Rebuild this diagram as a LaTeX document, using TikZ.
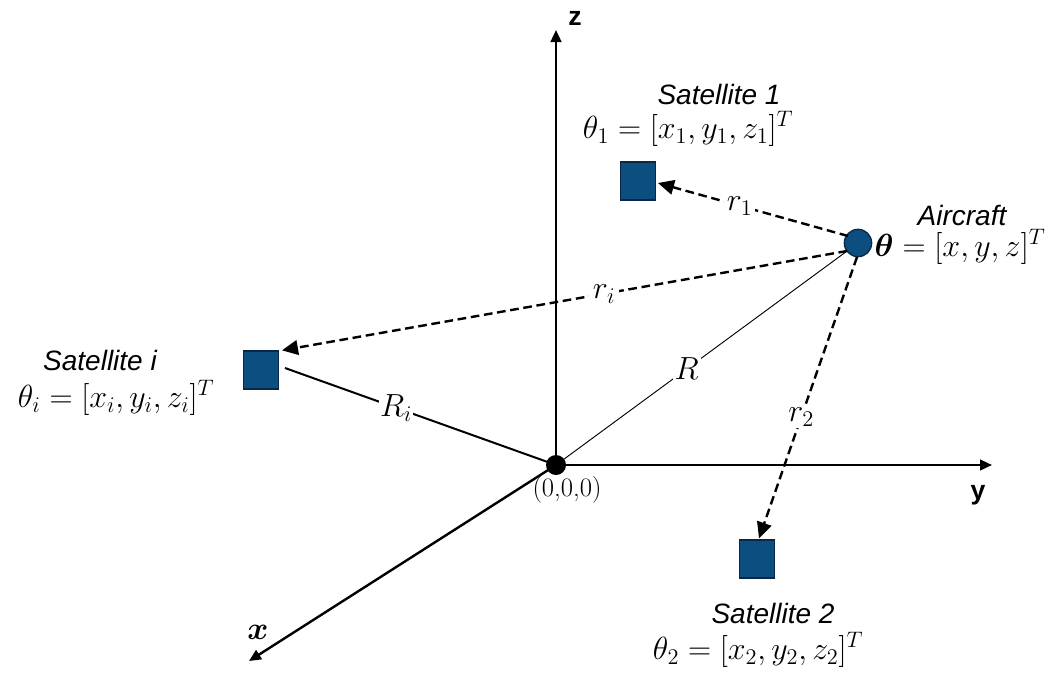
\documentclass[tikz,border=0pt]{standalone}
\usepackage{fix-cm}
\usepackage{amsmath}
\usepackage{fontspec}
\newfontfamily\lblfont{Liberation Sans}
\usetikzlibrary{arrows.meta,calc}
\definecolor{satblue}{RGB}{12,78,128}
\definecolor{satedge}{RGB}{10,40,70}
\tikzset{
  axis/.style={line width=1.8pt,-{Triangle[length=9pt,width=8pt]}},
  sat/.style={draw=satedge,line width=1pt,fill=satblue,minimum width=26pt,minimum height=28.5pt,inner sep=0pt},
  rng/.style={line width=1.8pt,dash pattern=on 6.5pt off 3.5pt,-{Triangle[length=12pt,width=11pt]}},
  lbl/.style={font=\lblfont\itshape\fontsize{21}{24}\selectfont},
  eq/.style={font=\fontsize{24}{28}\selectfont},
  gap/.style={fill=white,inner sep=3pt,font=\fontsize{24}{28}\selectfont},
  axlbl/.style={font=\lblfont\bfseries\fontsize{20}{24}\selectfont}
}
\begin{document}
\begin{tikzpicture}[x=0.75pt,y=-0.75pt]
\useasboundingbox (0,0) rectangle (1045,678);
% origin and axes
\coordinate (O) at (556,465);
\coordinate (zend) at (556,30);
\coordinate (yend) at (992,465);
\coordinate (xend) at (249,661);
\draw[axis] (O) -- (zend);
\draw[axis] (O) -- (yend);
\draw[axis] (O) -- (xend);
\node[axlbl] (zl) at (575,18) {z};
\node[axlbl] (yl) at (978,495) {y};
\node[font=\fontsize{24}{26}\selectfont] (xl) at (258,632) {$\boldsymbol{x}$};
% objects
\node[sat] (sat1) at (638,181) {};
\node[sat] (sati) at (261,370) {};
\node[sat] (sat2) at (757,559) {};
\node[circle,draw=satedge,line width=1pt,fill=satblue,minimum size=20.5pt,inner sep=0pt] (air) at (858,243) {};
% lines
\draw[line width=0.7pt] (O) -- node[gap,pos=0.45,inner sep=1.5pt] (Rl) {$R$} (air);
\draw[line width=1.5pt] ($(sati.east)+(6,-2)$) -- node[gap,pos=0.41,inner sep=0.5pt] (Ril) {$R_i$} (O);
\draw[rng] ($(air)+(-10,-7)$) -- node[gap,pos=0.57,inner sep=2pt] (r1l) {$r_1$} ($(sat1.east)+(2,2)$);
\draw[rng] ($(air)+(-11,8)$) -- node[gap,pos=0.43] (ril) {$r_i$} ($(sati.north east)+(3,0)$);
\draw[rng] ($(air)+(-1,14)$) -- node[gap,pos=0.57,inner sep=1pt] (r2l) {$r_2$} ($(sat2.north)+(2,-1)$);
\fill (O) circle (7.5pt);
\node[font=\fontsize{20}{22}\selectfont] (Ol) at (567,490) {(0,0,0)};
% labels
\node[lbl] (s1t) at (719,94) {Satellite 1};
\node[eq] (s1e) at (688,129) {$\theta_1=[x_1,y_1,z_1]^T$};
\node[lbl] (act) at (962,215) {Aircraft};
\node[eq] (ace) at (960,247) {$\boldsymbol{\theta}=[x,y,z]^T$};
\node[lbl] (sit) at (100,360) {Satellite i};
\node[eq] (sie) at (116,398) {$\theta_i=[x_i,y_i,z_i]^T$};
\node[lbl] (s2t) at (773,613) {Satellite 2};
\node[eq] (s2e) at (758,650) {$\theta_2=[x_2,y_2,z_2]^T$};
\end{tikzpicture}
\end{document}
